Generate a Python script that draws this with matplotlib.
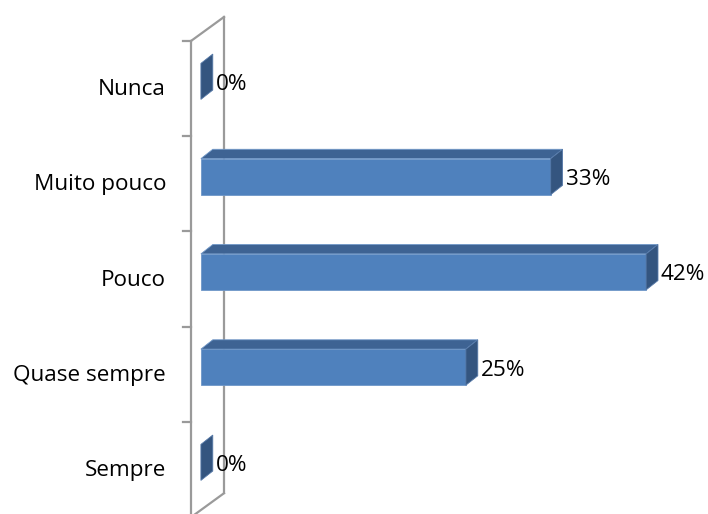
import numpy as np
import matplotlib
matplotlib.use('Agg')
import matplotlib.pyplot as plt
from matplotlib.patches import Polygon

# respostas (de baixo para cima no gráfico)
categorias = ['Sempre', 'Quase sempre', 'Pouco', 'Muito pouco', 'Nunca']
valores = [0, 25, 42, 33, 0]
rotulos = ['0%', '25%', '42%', '33%', '0%']

plt.rcParams['font.family'] = ['Open Sans', 'DejaVu Sans']

W, H, DPI = 708, 514, 100
fig = plt.figure(figsize=(W / DPI, H / DPI), dpi=DPI)
ax = fig.add_axes([0, 0, 1, 1])

# escala: px por ponto percentual e por categoria
px_x, px_y = 10.6, 95.25
x0_px, y0_px = 191, 44.4
ax.set_xlim(-x0_px / px_x, (W - x0_px) / px_x)
ax.set_ylim(-y0_px / px_y, (H - y0_px) / px_y)
ax.axis('off')

# vetor de profundidade (efeito 3D)
dx, dy = 33 / px_x, 26 / px_y
f0, f1 = 0.30, 0.66
alt = 0.378 / 2

cor_frente = '#4F81BD'
cor_topo = '#3E6393'
cor_lado = '#34557F'
cor_parede = '#9A9A9A'

n = len(categorias)
ymin, ymax = -0.5, n - 0.5
dy_parede = 24 / px_y

# parede lateral (plano x = 0)
ax.plot([0, 0], [ymin, ymax], color=cor_parede, lw=1.6, zorder=1)
ax.plot([dx, dx], [ymin + dy_parede, ymax + dy_parede], color=cor_parede, lw=1.6, zorder=1)
ax.plot([0, dx], [ymax, ymax + dy_parede], color=cor_parede, lw=1.6, zorder=1)
ax.plot([0, dx], [ymin, ymin + dy_parede], color=cor_parede, lw=1.6, zorder=1)

# marcas entre categorias
for b in np.arange(ymin, ymax + 0.01, 1.0):
    ax.plot([-8 / px_x, 0], [b, b], color=cor_parede, lw=1.6, zorder=1)

for i, (cat, v, rot) in enumerate(zip(categorias, valores, rotulos)):
    # rótulo da categoria
    ax.text(-25 / px_x, i - 0.01, cat, ha='right', va='center', fontsize=16.2,
            color='black')

    xa, ya = f0 * dx, i + 0.3 * dy_parede
    xb, yb = f1 * dx, ya + (f1 - f0) * dy
    if v > 0:
        frente = [(xa, ya - alt), (xa + v, ya - alt), (xa + v, ya + alt), (xa, ya + alt)]
        topo = [(xa, ya + alt), (xa + v, ya + alt), (xb + v, yb + alt), (xb, yb + alt)]
        ax.add_patch(Polygon(frente, closed=True, fc=cor_frente, ec='#6F97C8',
                             lw=0.6, zorder=3))
        ax.add_patch(Polygon(topo, closed=True, fc=cor_topo, ec='#6F97C8',
                             lw=0.6, zorder=3))
    lado = [(xa + v, ya - alt), (xb + v, yb - alt), (xb + v, yb + alt), (xa + v, ya + alt)]
    ax.add_patch(Polygon(lado, closed=True, fc=cor_lado, ec='#5679A8',
                         lw=0.6, zorder=4))

    # rótulo de valor
    ax.text(xb + v + 3 / px_x, (ya + yb) / 2 - 0.08, rot,
            ha='left', va='center', fontsize=16.2, color='black', zorder=5)

fig.savefig('out.png', dpi=DPI)
